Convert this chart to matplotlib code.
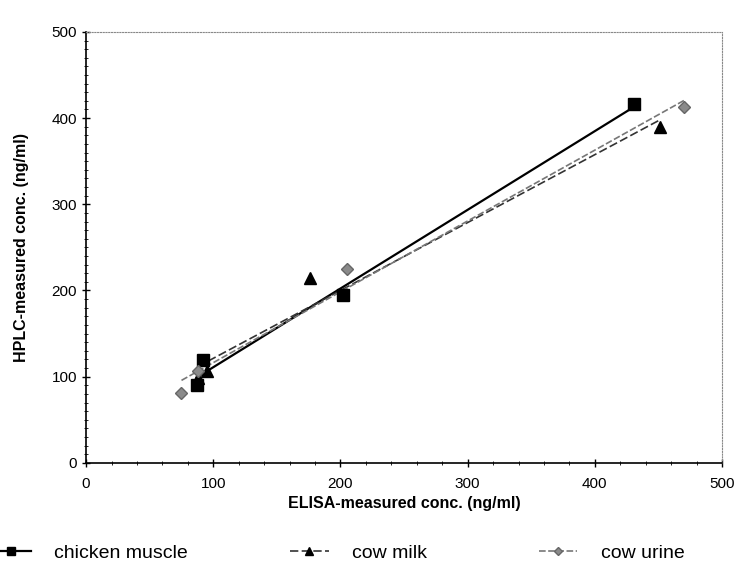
import numpy as np
import matplotlib
matplotlib.use('Agg')
import matplotlib.pyplot as plt
from matplotlib.lines import Line2D

plt.rcParams['font.family'] = ['Liberation Sans', 'DejaVu Sans']

# ELISA vs HPLC concentrations (ng/ml) for each sample matrix
chicken_x = [87, 92, 202, 431]
chicken_y = [90, 119, 195, 416]
milk_x = [88, 95, 176, 451]
milk_y = [98, 106, 214, 390]
urine_x = [75, 88, 205, 470]
urine_y = [81, 106, 225, 413]

labels = ['chicken muscle', 'cow milk', 'cow urine']

fig = plt.figure(figsize=(7.36, 5.8), dpi=100)
ax = fig.add_axes([0.117, 0.202, 0.864, 0.743])

series = [
    (chicken_x, chicken_y, dict(color='black', ls='-', lw=1.6), dict(marker='s', mfc='black', mec='black'), 9),
    (milk_x, milk_y, dict(color='#333333', ls=(0, (5, 2)), lw=1.2), dict(marker='^', mfc='black', mec='black'), 9),
    (urine_x, urine_y, dict(color='#777777', ls=(0, (4, 1.5)), lw=1.2), dict(marker='D', mfc='#8a8a8a', mec='#666666'), 6.5),
]

handles = []
for (xs, ys, lstyle, mstyle, ms), lab in zip(series, labels):
    xs = np.array(xs, dtype=float)
    ys = np.array(ys, dtype=float)
    # linear trend line over the measured range
    k, b = np.polyfit(xs, ys, 1)
    xx = np.array([xs.min(), xs.max()])
    ax.plot(xx, k * xx + b, zorder=2, **lstyle)
    ax.plot(xs, ys, ls='none', ms=ms, zorder=3, **mstyle)
    handles.append(Line2D([], [], label=lab, ms=ms * 0.7, **lstyle, **mstyle))

ax.set_xlim(0, 500)
ax.set_ylim(0, 500)
ax.set_xticks(np.arange(0, 501, 100))
ax.set_yticks(np.arange(0, 501, 100))
ax.set_xticks(np.arange(0, 501, 20), minor=True)
ax.set_yticks(np.arange(0, 501, 10), minor=True)
ax.tick_params(which='major', direction='inout', length=6, width=1, labelsize=11)
ax.tick_params(which='minor', direction='inout', length=3, width=0.6)
ax.tick_params(axis='x', pad=7)

for s in ['top', 'right']:
    ax.spines[s].set_linestyle((0, (1, 1.5)))
    ax.spines[s].set_color('#888888')
    ax.spines[s].set_linewidth(0.8)
for s in ['left', 'bottom']:
    ax.spines[s].set_linewidth(1.2)

ax.set_xlabel('ELISA-measured conc. (ng/ml)', fontsize=11.5, fontweight='bold', labelpad=4)
ax.set_ylabel('HPLC-measured conc. (ng/ml)', fontsize=11.5, fontweight='bold', labelpad=16)

# legend row along the bottom of the figure
anchors = [-0.035, 0.37, 0.708]
for h, xa in zip(handles, anchors):
    fig.legend(handles=[h], loc='center left', bbox_to_anchor=(xa, 0.047),
               frameon=False, fontsize=14, handlelength=2.0, handletextpad=1.2)

fig.savefig('out.png', dpi=100)
